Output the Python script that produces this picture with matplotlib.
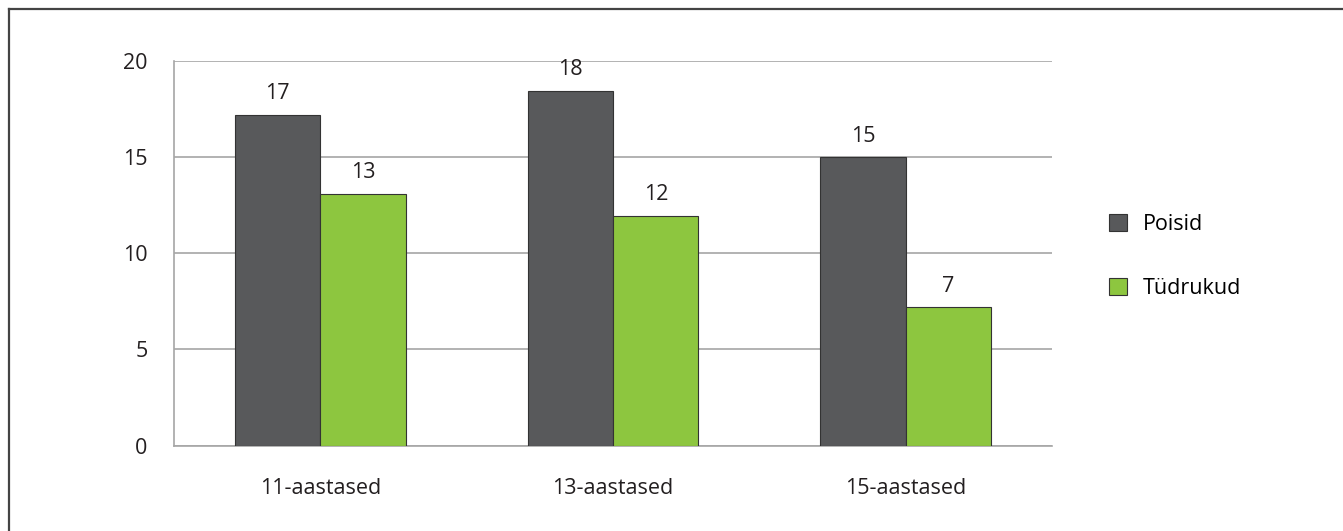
import numpy as np
import matplotlib.pyplot as plt
from matplotlib.lines import Line2D

plt.rcParams['font.family'] = ['Open Sans', 'DejaVu Sans']

categories = ['11-aastased', '13-aastased', '15-aastased']
poisid = [17.2, 18.45, 15.0]
tudrukud = [13.1, 11.95, 7.2]
series_names = ['Poisid', 'Tüdrukud']
yticks = [0, 5, 10, 15, 20]

dark = '#58595B'
green = '#8DC63F'
grid_c = '#A6A6A6'
txt_c = '#231F20'
fs = 15.5

fig = plt.figure(figsize=(13.43, 5.31), dpi=100)
ax = fig.add_axes([0.1296, 0.1606, 0.6537, 0.7251])

x = np.arange(len(categories))
w = 0.292
b1 = ax.bar(x - w / 2, poisid, w, color=dark, edgecolor='#333333', linewidth=0.8,
            label=series_names[0], zorder=3)
b2 = ax.bar(x + w / 2, tudrukud, w, color=green, edgecolor='#333333', linewidth=0.8,
            label=series_names[1], zorder=3)
ax.bar_label(b1, fmt='%.0f', padding=7.5, fontsize=fs, color=txt_c)
ax.bar_label(b2, fmt='%.0f', padding=7.5, fontsize=fs, color=txt_c)

ax.set_xlim(-0.5, 2.5)
ax.set_ylim(0, 20)
ax.set_yticks(yticks)
ax.set_xticks(x)
ax.set_xticklabels(categories)
ax.tick_params(axis='both', length=0, labelsize=fs, labelcolor=txt_c)
ax.tick_params(axis='y', pad=19)
ax.tick_params(axis='x', pad=23)
ax.yaxis.grid(True, color=grid_c, linewidth=1.2, zorder=0)
ax.set_axisbelow(True)
for s in ['top', 'right']:
    ax.spines[s].set_visible(False)
for s in ['left', 'bottom']:
    ax.spines[s].set_color(grid_c)
    ax.spines[s].set_linewidth(1.2)

leg = ax.legend(loc='center left', bbox_to_anchor=(0.811, 0.517),
                bbox_transform=fig.transFigure, frameon=False, fontsize=fs,
                handlelength=0.84, handleheight=0.84, handletextpad=0.74,
                labelspacing=2.0)

# figure frame (top and left only)
fig.add_artist(Line2D([0.0065, 1.0], [1 - 8.5 / 531, 1 - 8.5 / 531],
                      transform=fig.transFigure, color='#444444', linewidth=1.6))
fig.add_artist(Line2D([0.0065, 0.0065], [0.0, 1 - 8.5 / 531],
                      transform=fig.transFigure, color='#444444', linewidth=1.6))

fig.savefig('out.png', dpi=100)
